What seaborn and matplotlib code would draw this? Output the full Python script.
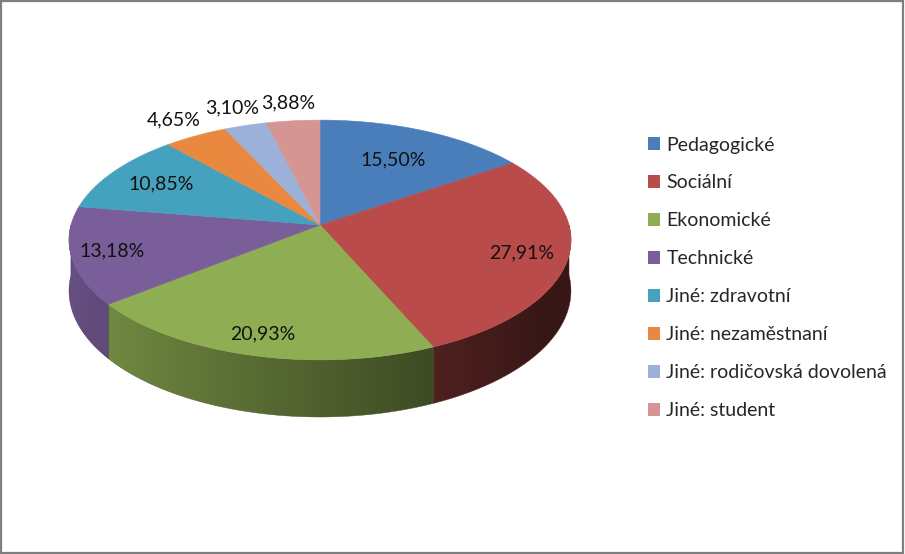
import numpy as np
import matplotlib
matplotlib.use("Agg")
import matplotlib.pyplot as plt
from matplotlib.patches import Polygon, Patch, Rectangle
import seaborn as sns

# data
categories = ["Pedagogické", "Sociální", "Ekonomické", "Technické",
              "Jiné: zdravotní", "Jiné: nezaměstnaní",
              "Jiné: rodičovská dovolená", "Jiné: student"]
values = [15.50, 27.91, 20.93, 13.18, 10.85, 4.65, 3.10, 3.88]
labels = ["15,50%", "27,91%", "20,93%", "13,18%", "10,85%", "4,65%", "3,10%", "3,88%"]
colors = ["#4a7ebb", "#b94c4a", "#8fae53", "#7a5e9a", "#45a2be", "#e8893f", "#9cb1d9", "#d59593"]

# label distance from center (fraction of radius)
label_r = [0.67, 0.82, 0.85, 0.84, 0.76, 1.2, 1.2, 1.2]

sns.set_theme(style="white")
plt.rcParams['font.family'] = ['Lato', 'DejaVu Sans']

W, H = 905, 554
fig = plt.figure(figsize=(W / 100, H / 100), dpi=100)
ax = fig.add_axes([0, 0, 1, 1])
ax.set_xlim(0, W)
ax.set_ylim(H, 0)
ax.axis("off")

# perspective ellipse geometry (pixels)
cx, cy = 320, 225
rx, ry = 249, 118
k = 0.125
depth = 50


def proj(theta, r=1.0, z=0.0):
    u = r * np.cos(theta)
    v = r * np.sin(theta)
    w = 1 + k * v
    return cx + rx * u / w, cy - ry * v / w + depth * z / w


def shade(theta):
    return np.clip(0.55 - 0.3 * np.cos(theta), 0.3, 0.85)


total = sum(values)
angles = [np.pi / 2]
for val in values:
    angles.append(angles[-1] - 2 * np.pi * val / total)

pal = sns.color_palette(colors)

# side walls (front half only), gradient clipped to each wall
for i in range(len(values)):
    a0, a1 = angles[i], angles[i + 1]
    ts = np.linspace(a0, a1, 400)
    ts = ts[np.sin(ts) <= 0]
    if len(ts) < 2:
        continue
    top = [proj(t) for t in ts]
    bot = [proj(t, z=1) for t in ts[::-1]]
    poly = Polygon(top + bot, closed=True, facecolor="none", edgecolor="none")
    ax.add_patch(poly)
    xs = np.array([p[0] for p in top])
    order = np.argsort(xs)
    x0, x1 = xs.min(), xs.max()
    ys = [p[1] for p in top + bot]
    y0, y1 = min(ys), max(ys)
    grid_x = np.linspace(x0, x1, 300)
    f = np.interp(grid_x, xs[order], shade(ts)[order])
    img = np.array(pal[i])[None, None, :] * f[None, :, None]
    img = np.repeat(img, 2, axis=0)
    im = ax.imshow(img, extent=(x0 - 1, x1 + 1, y1 + 1, y0 - 1), aspect="auto",
                   interpolation="bilinear", zorder=1)
    im.set_clip_path(poly)
    ax.add_patch(Polygon(top + bot, closed=True, facecolor="none",
                         edgecolor=tuple(np.array(pal[i]) * 0.5), lw=0.3, zorder=1))

# top faces
for i in range(len(values)):
    ts = np.linspace(angles[i], angles[i + 1], 200)
    pts = [proj(0, r=0)] + [proj(t) for t in ts]
    ax.add_patch(Polygon(pts, closed=True, facecolor=pal[i], edgecolor=pal[i], lw=0.4, zorder=2))

# data labels
for i in range(len(values)):
    tm = (angles[i] + angles[i + 1]) / 2
    x, y = proj(tm, r=label_r[i])
    ax.text(x, y, labels[i], ha="center", va="center", fontsize=14, color="#111111", zorder=3)

# legend
handles = [Patch(facecolor=pal[i], edgecolor="none") for i in range(len(categories))]
ax.legend(handles, categories, loc="center left", bbox_to_anchor=(648 / W, 1 - 278 / H),
          bbox_transform=fig.transFigure, frameon=False, fontsize=14,
          handlelength=0.6, handleheight=0.6, handletextpad=0.35,
          labelspacing=1.08, borderpad=0, borderaxespad=0)

# outer border
fig.patches.append(Rectangle((0.001, 0.002), 0.997, 0.996, transform=fig.transFigure,
                             fill=False, edgecolor="#7f7f7f", lw=1.6))

fig.savefig("out.png", dpi=100)
